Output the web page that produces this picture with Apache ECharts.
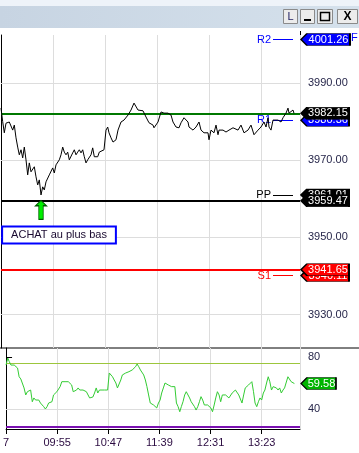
<!DOCTYPE html>
<html><head><meta charset="utf-8">
<script src="https://cdn.jsdelivr.net/npm/echarts@6/dist/echarts.min.js"></script>
<style>html,body{margin:0;padding:0;background:#fff}#c{width:359px;height:453px}</style>
</head><body><div id="c"></div><script>
// ---- data ----
const tickMinutes = [0, 52, 104, 156, 208, 260];
const tickLabels = ['7', '09:55', '10:47', '11:39', '12:31', '13:23'];
const priceTicks = [3930, 3950, 3970, 3990];
const oscTicks = [40, 80];
const oscGrid = [40];

const priceX = [0,1.7,3.3,5,8.3,11.7,13.3,15,16.7,18.3,20,21.7,23.3,25,26.7,28.3,30,31.7,33.3,35,36.7,38.3,40,41.7,43.3,45,46.7,48.3,50,51.7,53.3,55,56.7,58.3,60,61.7,63.3,65,66.7,68.3,70,71.7,73.3,75,76.7,78.3,80,81.7,83.3,85,86.7,88.3,90,91.7,93.3,95,96.7,98.3,100,103,105,106.7,108,110,112,115,117,120,123,127,130,133,137,142,145,148,152,153,157,160,163,167,170,172,175,178,180,183,187,188,192,195,198,200,203,207,208,210,213,215,217,218,222,225,228,232,233,237,240,243,247,250,253,257,260,263,265,267,268,270,272,273,277,280,282,283,285,287,288,290,292,293];
const priceVal = [3983.5,3980.0,3977.1,3979.6,3979.9,3977.8,3979.1,3975.8,3973.4,3971.4,3972.7,3970.6,3973.4,3970.1,3966.2,3969.3,3967.0,3967.5,3968.3,3965.7,3963.6,3964.9,3961.0,3963.1,3962.3,3964.4,3964.1,3966.2,3965.7,3968.0,3966.7,3968.8,3968.3,3970.1,3971.4,3973.4,3972.1,3971.4,3972.1,3970.1,3970.6,3971.9,3972.7,3971.4,3972.1,3972.7,3971.9,3972.7,3970.9,3969.3,3970.1,3970.6,3971.4,3973.2,3970.9,3971.4,3970.9,3972.1,3972.1,3972.7,3977.8,3978.6,3977.1,3975.8,3974.7,3975.3,3977.8,3979.9,3980.4,3981.7,3983.0,3984.8,3983.0,3982.8,3981.2,3979.7,3979.1,3978.4,3979.9,3982.5,3982.2,3982.2,3981.7,3979.9,3978.6,3978.4,3979.7,3981.0,3979.9,3978.6,3977.8,3978.6,3979.9,3977.8,3977.1,3977.1,3975.3,3977.8,3977.1,3979.1,3976.6,3977.8,3977.8,3977.3,3977.8,3978.4,3978.6,3977.8,3979.1,3977.1,3977.8,3979.1,3976.6,3977.8,3978.6,3979.9,3978.6,3981.0,3978.6,3977.8,3980.4,3979.9,3980.4,3979.9,3981.0,3980.7,3982.2,3983.5,3982.2,3982.5,3983.0,3982.15];

const oscX = [0,1.7,3.3,5,8.3,11.7,13.3,15,16.7,18.3,20,21.7,23.3,25,26.7,28.3,30,31.7,33.3,35,36.7,38.3,40,41.7,43.3,45,46.7,48.3,50,51.7,53.3,55,56.7,58.3,60,61.7,63.3,65,66.7,68.3,70,71.7,73.3,75,76.7,78.3,80,81.7,83.3,85,86.7,88.3,90,91.7,93.3,95,96.7,100,103.3,105,106.7,108.3,110,111.7,113.3,115,116.7,118.3,120,121.7,123.3,125,126.7,128.3,130,131.7,133.3,135,136.7,140,141.7,143.3,145,146.7,148.3,150,151.7,153.3,155,156.7,158.3,160,161.7,163.3,165,168.3,170,171.7,173.3,175,176.7,178.3,180,181.7,183.3,185,186.7,188.3,190,191.7,193.3,195,196.7,198.3,200,201.7,203.3,205,206.7,208.3,210,211.7,213.3,215,216.7,218.3,220,221.7,223.3,225,226.7,228.3,230,231.7,233.3,235,236.7,238.3,240,241.7,243.3,245,246.7,248.3,250,251.7,253.3,255,256.7,258.3,260,261.7,263.3,265,266.7,268.3,270,271.7,273.3,275,276.7,278.3,280,281.7,283.3,285,286.7,288.3,290,291.7,293.3];
const oscVal = [73.8,79.2,76.4,73.8,73.8,71.5,64.8,63.1,62.3,56.2,50.8,53.3,52.3,54.6,45.6,48.5,46.9,45.6,46.9,44.6,43.1,41.8,40.0,41.8,44.6,43.1,45.6,50.8,52.3,53.3,54.6,57.2,61.0,60.0,61.0,62.3,61.0,60.0,58.5,53.3,53.3,54.6,56.2,54.6,55.4,54.6,55.4,53.3,54.6,48.5,49.5,49.2,52.3,56.2,52.3,54.6,53.3,54.6,54.6,67.7,68.7,64.8,62.3,60.0,56.2,57.2,62.3,66.2,64.8,67.7,67.7,68.7,68.7,70.0,71.5,72.5,74.6,72.5,70.0,66.2,62.3,57.2,50.8,44.6,45.6,43.1,44.6,40.8,44.6,46.9,52.3,56.2,60.0,60.2,58.5,57.2,56.2,57.2,44.6,41.8,37.9,41.8,45.6,50.8,53.3,52.3,48.5,45.6,44.6,41.8,39.2,41.8,45.6,49.5,46.9,43.1,41.8,43.1,41.8,40.8,37.9,43.1,48.5,53.3,50.8,45.6,50.8,52.3,50.8,49.5,48.5,48.5,52.3,53.3,54.6,53.3,50.8,49.5,44.6,50.8,56.2,57.2,58.5,60.0,61.0,53.3,44.6,41.8,45.6,48.5,46.9,52.3,54.6,60.0,64.8,61.0,54.6,57.2,58.5,56.2,54.6,56.2,52.3,54.6,56.2,57.2,64.8,66.2,61.0,62.3,59.58];

const pivotNames = ['R2', 'R1', 'PP', 'S1'];
const pivotValues = [4001.26, 3980.36, 3961.01, 3940.11];
const pivotColors = ['#0000ff', '#0000ff', '#000000', '#ff0000'];
const levelValues = [3982.15, 3959.47, 3941.65];
const levelColors = ['#007800', '#000000', '#ff0000'];
const oscLevelValues = [75, 26.2];
const oscLevelColors = ['#9cc63c', '#7a10b0'];
const lowMinute = 40;
const lowPrice = 3961.0;
const noteText = 'ACHAT au plus bas';

// ---- chart ----
const FONT = '"Liberation Sans", Arial, sans-serif';
const X_MAX = 299;
const priceData = priceX.map((x, i) => [x, priceVal[i]]);
const oscData = oscX.map((x, i) => [x, oscVal[i]]);

function tag(value, color, text, w) {
  return {
    coord: [X_MAX, value],
    symbol: 'path://M0,6L6,0L' + w + ',0L' + w + ',12L6,12Z',
    symbolSize: [w, 12],
    symbolOffset: [w / 2 + 1, 0],
    itemStyle: { color: color, borderColor: '#000', borderWidth: 1 },
    label: { show: true, position: 'inside', formatter: text, color: '#fff',
             fontSize: 11, fontFamily: FONT, offset: [3, 0] }
  };
}
const fmt = v => v.toFixed(2);

const backTags = [
  tag(pivotValues[1], pivotColors[1], fmt(pivotValues[1]), 48),
  tag(pivotValues[2], '#000000', fmt(pivotValues[2]), 48),
  tag(pivotValues[3], '#ff0000', fmt(pivotValues[3]), 48)
];
const frontTags = [
  tag(pivotValues[0], pivotColors[0], fmt(pivotValues[0]), 49),
  tag(levelValues[0], '#000000', fmt(levelValues[0]), 48),
  tag(levelValues[1], '#000000', fmt(levelValues[1]), 48),
  tag(levelValues[2], '#ff0000', fmt(levelValues[2]), 48)
];

const pivotSegStart = 272, pivotSegEnd = 292;

const option = {
  animation: false,
  backgroundColor: '#ffffff',
  grid: [
    { left: 1, top: 35, width: 299, height: 313 },
    { left: 1, top: 348, width: 299, height: 81 }
  ],
  xAxis: [
    { type: 'value', gridIndex: 0, min: 0, max: X_MAX, interval: 52,
      axisLine: { show: false }, axisTick: { show: false }, axisLabel: { show: false },
      splitLine: { show: true, lineStyle: { color: '#dddddd', width: 1 } } },
    { type: 'value', gridIndex: 1, min: 0, max: X_MAX, interval: 52,
      axisLine: { show: true, onZero: false, lineStyle: { color: '#000', width: 1 } },
      axisTick: { show: true, length: 5, lineStyle: { color: '#000' } },
      axisLabel: { show: true, margin: 8, fontSize: 11, fontFamily: FONT, color: '#2a0a40',
        showMinLabel: true, showMaxLabel: false,
        formatter: v => { const i = tickMinutes.indexOf(v); return i >= 0 ? tickLabels[i] : ''; } },
      splitLine: { show: true, lineStyle: { color: '#dddddd', width: 1 } } }
  ],
  yAxis: [
    { type: 'value', gridIndex: 0, position: 'right', min: 3921.35, max: 4002.44,
      axisLine: { show: true, lineStyle: { color: '#000', width: 1 } },
      axisTick: { show: true, length: 6, customValues: priceTicks, lineStyle: { color: '#000' } },
      axisLabel: { show: true, margin: 8, fontSize: 11, fontFamily: FONT, color: '#26264a',
        customValues: priceTicks, formatter: v => v.toFixed(2) },
      splitLine: { show: false } },
    { type: 'value', gridIndex: 1, position: 'right', min: 24.615, max: 86.923,
      axisLine: { show: true, lineStyle: { color: '#000', width: 1 } },
      axisTick: { show: true, length: 6, customValues: oscTicks, lineStyle: { color: '#000' } },
      axisLabel: { show: true, margin: 8, fontSize: 11, fontFamily: FONT, color: '#26264a',
        customValues: oscTicks, formatter: v => String(Math.round(v)) },
      splitLine: { show: false } }
  ],
  series: [
    { name: 'gridP', type: 'line', xAxisIndex: 0, yAxisIndex: 0, data: [], z: 1, silent: true,
      markLine: { silent: true, symbol: 'none', label: { show: false }, animation: false, z: 1,
        lineStyle: { color: '#dddddd', width: 1, type: 'solid' },
        data: priceTicks.map(v => ({ yAxis: v })) } },
    { name: 'levels', type: 'line', xAxisIndex: 0, yAxisIndex: 0, data: [], z: 2, silent: true,
      markLine: { silent: true, symbol: 'none', animation: false, z: 2,
        data: levelValues.map((v, i) => ({ yAxis: v, label: { show: false },
          lineStyle: { color: levelColors[i], width: 2, type: 'solid' } })).concat(
          pivotNames.map((n, i) => [
            { coord: [pivotSegStart, pivotValues[i]],
              label: { show: true, position: 'start', distance: 2, formatter: n,
                       color: pivotColors[i], fontSize: 11, fontFamily: FONT },
              lineStyle: { color: pivotColors[i], width: 1, type: 'solid' } },
            { coord: [pivotSegEnd, pivotValues[i]] }
          ])) } },
    { name: 'price', type: 'line', xAxisIndex: 0, yAxisIndex: 0, data: priceData, z: 3,
      showSymbol: false, symbol: 'none', clip: false,
      lineStyle: { color: '#000000', width: 1 },
      markPoint: { animation: false, silent: true, z: 5, data: [
        { coord: [lowMinute, lowPrice],
          symbol: 'path://M5,0L10,5L7,5L7,18L3,18L3,5L0,5Z', symbolSize: [11, 19], symbolOffset: [0, 15],
          itemStyle: { color: '#00ee00', borderColor: '#005a00', borderWidth: 1 }, label: { show: false } },
        { coord: [lowMinute, lowPrice], symbol: 'rect', symbolSize: 0,
          label: { show: true, position: 'inside', offset: [18, 40], formatter: noteText,
            color: '#1a0a30', fontSize: 11, fontFamily: FONT, backgroundColor: '#ffffff',
            borderColor: '#0000ff', borderWidth: 2, padding: [2, 8, 2, 8] } }
      ] } },
    { name: 'tagsBack', type: 'line', xAxisIndex: 0, yAxisIndex: 0, data: [], z: 9, clip: false,
      markPoint: { animation: false, silent: true, z: 8, data: backTags } },
    { name: 'tagsFront', type: 'line', xAxisIndex: 0, yAxisIndex: 0, data: [], z: 10, clip: false,
      markPoint: { animation: false, silent: true, z: 12, data: frontTags } },
    { name: 'gridO', type: 'line', xAxisIndex: 1, yAxisIndex: 1, data: [], z: 1, silent: true,
      markLine: { silent: true, symbol: 'none', label: { show: false }, animation: false, z: 1,
        data: oscGrid.map(v => ({ yAxis: v, lineStyle: { color: '#dddddd', width: 1, type: 'solid' } }))
          .concat(oscLevelValues.map((v, i) => ({ yAxis: v,
            lineStyle: { color: oscLevelColors[i], width: i === 1 ? 2 : 1, type: 'solid' } }))) } },
    { name: 'osc', type: 'line', xAxisIndex: 1, yAxisIndex: 1, data: oscData, z: 3,
      showSymbol: false, symbol: 'none', clip: false,
      lineStyle: { color: '#33cc33', width: 1 },
      markPoint: { animation: false, silent: true, z: 8,
        data: [tag(oscVal[oscVal.length - 1], '#00b400', fmt(oscVal[oscVal.length - 1]), 35)] } }
  ],
  graphic: [
    { type: 'rect', shape: { x: 0, y: 0, width: 359, height: 6 }, style: { fill: '#eef3f9' }, silent: true },
    { type: 'rect', shape: { x: 0, y: 6, width: 359, height: 22 }, silent: true,
      style: { fill: new echarts.graphic.LinearGradient(0, 0, 1, 0, [
        { offset: 0, color: '#c7d4e2' }, { offset: 1, color: '#d5e1ec' }]) } },
    { type: 'line', shape: { x1: 0, y1: 348, x2: 359, y2: 348 }, style: { stroke: '#000', lineWidth: 1 }, silent: true },
    { type: 'line', shape: { x1: 300.5, y1: 31, x2: 300.5, y2: 35 }, style: { stroke: '#000', lineWidth: 1 }, silent: true },
    { type: 'text', x: 351, y: 32, style: { text: 'F', fill: '#0000ff', font: '11px ' + FONT }, silent: true },
    { type: 'rect', shape: { x: 283.5, y: 9.5, width: 14, height: 14 }, style: { fill: '#ececec', stroke: '#8a8a8a', lineWidth: 1 }, silent: true },
    { type: 'text', x: 290.5, y: 17, style: { text: 'L', fill: '#1a1a60', font: '11px ' + FONT, align: 'center', verticalAlign: 'middle' }, silent: true },
    { type: 'rect', shape: { x: 300.5, y: 9.5, width: 14, height: 14 }, style: { fill: '#ececec', stroke: '#8a8a8a', lineWidth: 1 }, silent: true },
    { type: 'rect', shape: { x: 304, y: 19, width: 7, height: 2 }, style: { fill: '#000' }, silent: true },
    { type: 'rect', shape: { x: 317.5, y: 9.5, width: 15, height: 14 }, style: { fill: '#ececec', stroke: '#8a8a8a', lineWidth: 1 }, silent: true },
    { type: 'rect', shape: { x: 320.5, y: 12.5, width: 9, height: 8 }, style: { fill: 'none', stroke: '#000', lineWidth: 1.5 }, silent: true },
    { type: 'rect', shape: { x: 337.5, y: 9.5, width: 20, height: 14 }, style: { fill: '#ececec', stroke: '#8a8a8a', lineWidth: 1 }, silent: true },
    { type: 'text', x: 347.5, y: 17, style: { text: 'X', fill: '#000', font: 'bold 12px ' + FONT, align: 'center', verticalAlign: 'middle' }, silent: true }
  ]
};
const chart = echarts.init(document.getElementById('c'), null, { renderer: 'canvas' });
chart.setOption(option);
</script></body></html>
